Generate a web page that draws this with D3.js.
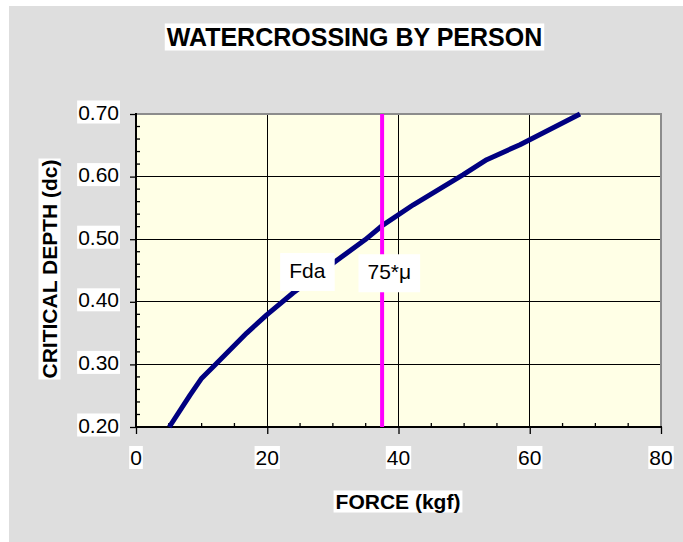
<!DOCTYPE html>
<html>
<head>
<meta charset="utf-8">
<script src="https://cdn.jsdelivr.net/npm/d3@7"></script>
<style>
  html, body { margin: 0; padding: 0; background: #ffffff; }
  svg { display: block; }
  text { font-family: "Liberation Sans", Arial, Helvetica, sans-serif; fill: #000; }
</style>
</head>
<body>
<svg id="chart" width="683" height="542"></svg>
<script>
// ---- data ----
const titleText = "WATERCROSSING BY PERSON";
const xTitle = "FORCE (kgf)";
const yTitle = "CRITICAL DEPTH (dc)";
const xTicks = [0, 20, 40, 60, 80];
const yTicks = [0.20, 0.30, 0.40, 0.50, 0.60, 0.70];
const fdaForce = [5.07, 8.23, 10.01, 12.30, 16.87, 19.92, 23.92, 30.58, 34.90, 37.68, 42.26, 49.87, 53.44, 58.51, 67.66];
const fdaDepth = [0.200, 0.251, 0.278, 0.302, 0.350, 0.379, 0.414, 0.466, 0.499, 0.523, 0.555, 0.603, 0.627, 0.651, 0.700];
const muForce = 37.5;          // 75*μ with μ = 0.5
const seriesLabels = ["Fda", "75*μ"];
const labelAt = [{x: 26.1, y: 0.438}, {x: 38.6, y: 0.436}];

// ---- layout ----
const svg = d3.select("#chart");
const plot = {left: 136, right: 661, top: 114, bottom: 427};

const x = d3.scaleLinear().domain([0, 80]).range([plot.left, plot.right]);
const y = d3.scaleLinear().domain([0.2, 0.7]).range([plot.bottom, plot.top]);

// chart area background
svg.append("rect").attr("x", 9).attr("y", 6).attr("width", 683 - 9).attr("height", 542 - 6)
  .attr("fill", "#dedede");

// plot area
svg.append("rect").attr("x", plot.left).attr("y", plot.top)
  .attr("width", plot.right - plot.left).attr("height", plot.bottom - plot.top)
  .attr("fill", "#ffffe6");

function boxed(sel, pad) {
  sel.each(function() {
    const b = this.getBBox();
    const p = pad || {l: 1, r: 1, t: 1, b: 1};
    d3.select(this.parentNode).insert("rect", () => this)
      .attr("x", b.x - p.l).attr("y", b.y - p.t)
      .attr("width", b.width + p.l + p.r).attr("height", b.height + p.t + p.b)
      .attr("fill", "#ffffff");
  });
}

// gridlines
const grid = svg.append("g");
grid.selectAll("line.gx").data(xTicks.filter(d => d > 0 && d < 80)).join("line")
  .attr("x1", d => x(d)).attr("x2", d => x(d))
  .attr("y1", plot.top).attr("y2", plot.bottom)
  .attr("stroke", "#000").attr("stroke-width", 1).attr("shape-rendering", "crispEdges");
grid.selectAll("line.gy").data(yTicks.filter(d => d > 0.2 + 1e-9 && d < 0.7 - 1e-9)).join("line")
  .attr("x1", plot.left).attr("x2", plot.right)
  .attr("y1", d => y(d)).attr("y2", d => y(d))
  .attr("stroke", "#000").attr("stroke-width", 1).attr("shape-rendering", "crispEdges");

// top / right border (gray)
svg.append("path")
  .attr("d", `M${plot.left},${plot.top}H${plot.right}V${plot.bottom}`)
  .attr("fill", "none").attr("stroke", "#8c8c8c").attr("stroke-width", 2);

// x axis
const xAxisG = svg.append("g").attr("transform", `translate(0,${plot.bottom})`);
xAxisG.call(d3.axisBottom(x).tickValues(xTicks).tickSize(7).tickFormat(""))
  .call(g => g.select(".domain").remove());
xAxisG.selectAll(".tick line").attr("stroke", "#000").attr("stroke-width", 1.3);
const xMinor = d3.range(5, 80, 5).filter(d => d % 20 !== 0);
xAxisG.selectAll("line.minor").data(xMinor).join("line")
  .attr("x1", d => x(d)).attr("x2", d => x(d)).attr("y1", 0).attr("y2", -4)
  .attr("stroke", "#000").attr("stroke-width", 1.3);
xAxisG.append("line").attr("x1", plot.left - 1).attr("x2", plot.right + 1)
  .attr("y1", 0).attr("y2", 0).attr("stroke", "#000").attr("stroke-width", 2);

// y axis
const yAxisG = svg.append("g").attr("transform", `translate(${plot.left},0)`);
yAxisG.call(d3.axisLeft(y).tickValues(yTicks).tickSize(6).tickFormat(""))
  .call(g => g.select(".domain").remove());
yAxisG.selectAll(".tick line").attr("stroke", "#000").attr("stroke-width", 1.3);
const yMinor = d3.range(0.22, 0.7, 0.02).filter(d => Math.abs(d * 10 - Math.round(d * 10)) > 1e-6);
yAxisG.selectAll("line.minor").data(yMinor).join("line")
  .attr("x1", 0).attr("x2", 4).attr("y1", d => y(d)).attr("y2", d => y(d))
  .attr("stroke", "#000").attr("stroke-width", 1.3);
yAxisG.append("line").attr("x1", 0).attr("x2", 0)
  .attr("y1", plot.top - 1).attr("y2", plot.bottom + 1).attr("stroke", "#000").attr("stroke-width", 2);

// series: Fda curve
const fdaData = fdaForce.map((f, i) => ({x: f, y: fdaDepth[i]}));
svg.append("path").datum(fdaData)
  .attr("d", d3.line().x(d => x(d.x)).y(d => y(d.y)))
  .attr("fill", "none").attr("stroke", "#000080").attr("stroke-width", 5)
  .attr("stroke-linejoin", "round");

// series: 75*μ vertical line
svg.append("line")
  .attr("x1", x(muForce)).attr("x2", x(muForce))
  .attr("y1", y(0.7)).attr("y2", y(0.2))
  .attr("stroke", "#ff00ff").attr("stroke-width", 4);

// tick labels
const tl = svg.append("g");
tl.selectAll("text.xt").data(xTicks).join("text")
  .attr("x", d => x(d)).attr("y", plot.bottom + 38)
  .attr("text-anchor", "middle").attr("font-size", 21)
  .text(d => d);
tl.selectAll("text.yt").data(yTicks).join("text")
  .attr("x", plot.left - 17).attr("y", d => y(d) + 5.5)
  .attr("text-anchor", "end").attr("font-size", 21)
  .text(d => d3.format(".2f")(d));
boxed(tl.selectAll("text"), {l: 1, r: 1, t: 0, b: 0});

// series labels
const sl = svg.append("g");
sl.selectAll("text").data(seriesLabels).join("text")
  .attr("x", (d, i) => x(labelAt[i].x)).attr("y", (d, i) => y(labelAt[i].y))
  .attr("text-anchor", "middle").attr("font-size", 21)
  .text(d => d);
boxed(sl.selectAll("text"), {l: 9, r: 9, t: 6, b: 9});

// titles
const tg = svg.append("g");
tg.append("text").attr("x", 354.5).attr("y", 45.5)
  .attr("text-anchor", "middle").attr("font-size", 25).attr("font-weight", "bold")
  .text(titleText);
tg.append("text").attr("x", 398).attr("y", 508.5)
  .attr("text-anchor", "middle").attr("font-size", 21).attr("font-weight", "bold")
  .text(xTitle);
boxed(tg.selectAll("text"), {l: 2, r: 2, t: -1, b: 0});

const yg = svg.append("g").attr("transform", "translate(56.5,269) rotate(-90)");
yg.append("text").attr("x", 0).attr("y", 0)
  .attr("text-anchor", "middle").attr("font-size", 21).attr("font-weight", "bold")
  .text(yTitle);
boxed(yg.selectAll("text"), {l: 1, r: 1, t: -1, b: 0});
</script>
</body>
</html>
